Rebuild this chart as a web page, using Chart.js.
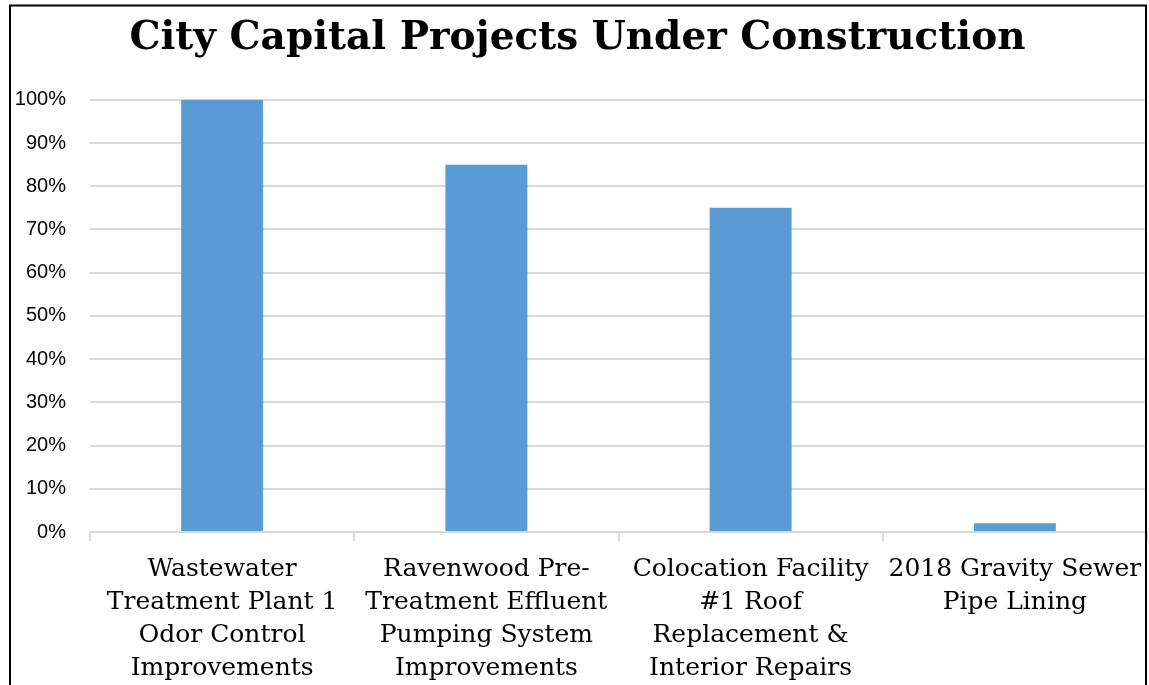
<!DOCTYPE html>
<html>
<head>
<meta charset="utf-8">
<script src="https://cdn.jsdelivr.net/npm/chart.js@4"></script>
<style>
html,body{margin:0;padding:0;background:#fff;}
#wrap{position:absolute;left:0;top:0;width:1149px;height:685px;}
</style>
</head>
<body>
<div id="wrap"><canvas id="c" width="1149" height="685"></canvas></div>
<script>
const chartTitle = 'City Capital Projects Under Construction';
const categories = [
  ['Wastewater', 'Treatment Plant 1', 'Odor Control', 'Improvements'],
  ['Ravenwood Pre-', 'Treatment Effluent', 'Pumping System', 'Improvements'],
  ['Colocation Facility', '#1 Roof', 'Replacement &', 'Interior Repairs'],
  ['2018 Gravity Sewer', 'Pipe Lining']
];
const percentComplete = [100, 85, 75, 2];
const yTicks = [0, 10, 20, 30, 40, 50, 60, 70, 80, 90, 100];

const frame = {
  id: 'frame',
  afterDraw(chart) {
    const ctx = chart.ctx;
    ctx.save();
    ctx.strokeStyle = '#000';
    ctx.lineWidth = 2;
    ctx.beginPath();
    ctx.moveTo(10, 700);
    ctx.lineTo(10, 5.5);
    ctx.lineTo(1146, 5.5);
    ctx.lineTo(1146, 700);
    ctx.stroke();
    ctx.restore();
  }
};

new Chart(document.getElementById('c'), {
  type: 'bar',
  data: {
    labels: categories,
    datasets: [{
      data: percentComplete,
      backgroundColor: '#5b9bd5',
      borderWidth: 0,
      categoryPercentage: 1,
      barPercentage: 0.31
    }]
  },
  options: {
    responsive: false,
    animation: false,
    layout: { padding: { left: 8, right: 2, top: 0, bottom: 0 } },
    plugins: {
      legend: { display: false },
      tooltip: { enabled: false },
      title: {
        display: true,
        text: chartTitle,
        color: '#000',
        font: { family: 'DejaVu Serif', weight: 'bold', size: 39, lineHeight: 1.2 },
        padding: { top: 15, bottom: 38 }
      }
    },
    scales: {
      x: {
        afterFit(s) { s.height = 153; s.paddingLeft = 0; s.paddingRight = 0; },
        grid: {
          offset: true,
          drawOnChartArea: false,
          drawTicks: true,
          tickLength: 9,
          color: '#d9d9d9',
          lineWidth: 2
        },
        border: { display: true, color: '#d9d9d9', width: 2 },
        ticks: {
          color: '#000',
          padding: 12,
          maxRotation: 0,
          autoSkip: false,
          font: { family: 'DejaVu Serif', size: 25, lineHeight: 1.32 }
        }
      },
      y: {
        min: 0,
        max: 100,
        afterFit(s) { s.width = 82; },
        afterBuildTicks(s) { s.ticks = yTicks.map(v => ({ value: v })); },
        grid: { color: '#d9d9d9', lineWidth: 2, drawTicks: false },
        border: { display: false },
        ticks: {
          color: '#000',
          padding: 24,
          font: { family: 'Liberation Sans', size: 20 },
          callback: v => v + '%'
        }
      }
    }
  },
  plugins: [frame]
});
</script>
</body>
</html>
